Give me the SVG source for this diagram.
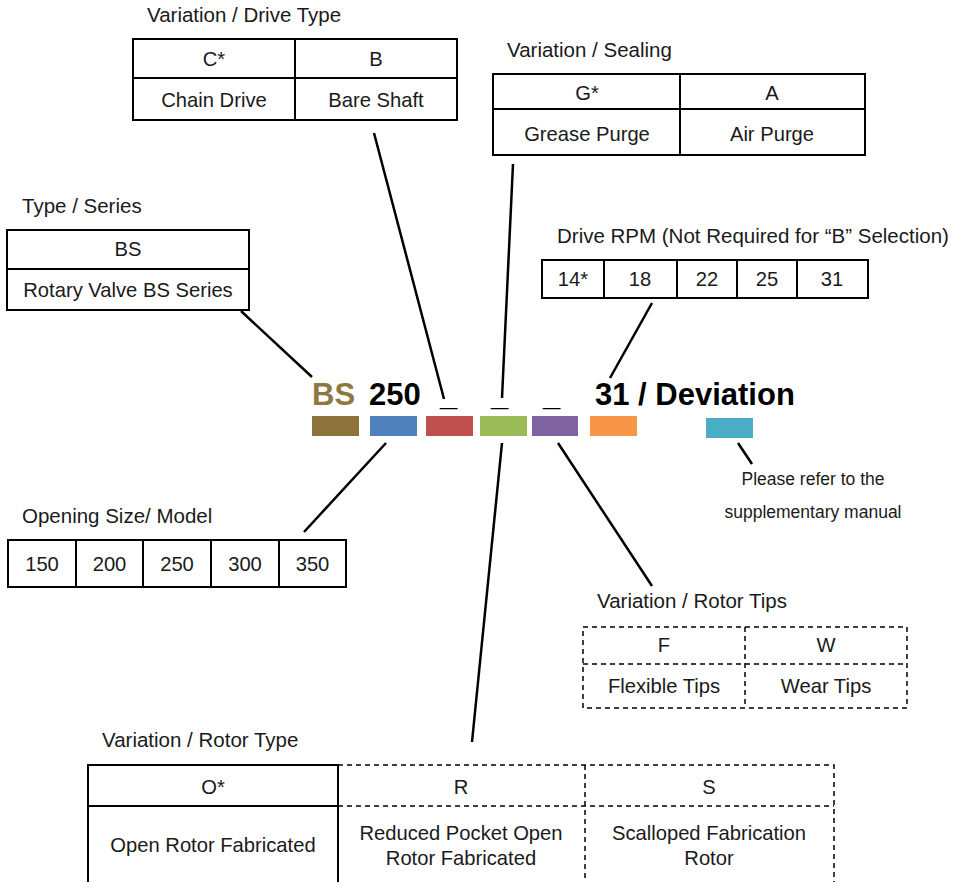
<svg xmlns="http://www.w3.org/2000/svg" width="962" height="882" viewBox="0 0 962 882">
<style>
text{font-family:"Liberation Sans",Arial,sans-serif;fill:#1a1a1a}
.t{font-size:20.5px}
.c{font-size:20.2px;text-anchor:middle}
.n{font-size:17.5px;text-anchor:middle}
.code{font-size:31px;font-weight:bold;fill:#000}
.box{fill:none;stroke:#000;stroke-width:2}
.dash{fill:none;stroke:#000;stroke-width:1.5;stroke-dasharray:5,4}
.conn line{stroke:#000;stroke-width:2.5}
</style>
<rect width="962" height="882" fill="#fff"/>

<g id="drive-type">
<text class="t" x="147" y="22">Variation / Drive Type</text>
<rect class="box" x="133" y="39" width="324" height="81"/>
<line class="box" x1="133" y1="78" x2="457" y2="78"/>
<line class="box" x1="295" y1="39" x2="295" y2="120"/>
<text class="c" x="214" y="66">C*</text>
<text class="c" x="376" y="66">B</text>
<text class="c" x="214" y="107">Chain Drive</text>
<text class="c" x="376" y="107">Bare Shaft</text>
</g>

<g id="sealing">
<text class="t" x="507" y="57">Variation / Sealing</text>
<rect class="box" x="493" y="74" width="372" height="81"/>
<line class="box" x1="493" y1="109" x2="865" y2="109"/>
<line class="box" x1="680" y1="74" x2="680" y2="155"/>
<text class="c" x="587" y="100">G*</text>
<text class="c" x="772" y="100">A</text>
<text class="c" x="587" y="141">Grease Purge</text>
<text class="c" x="772" y="141">Air Purge</text>
</g>

<g id="type-series">
<text class="t" x="22" y="213">Type / Series</text>
<rect class="box" x="7" y="230" width="242" height="80"/>
<line class="box" x1="7" y1="269" x2="249" y2="269"/>
<text class="c" x="128" y="256">BS</text>
<text class="c" x="128" y="297">Rotary Valve BS Series</text>
</g>

<g id="drive-rpm">
<text class="t" x="557" y="243">Drive RPM (Not Required for “B” Selection)</text>
<rect class="box" x="542" y="260" width="326" height="38"/>
<line class="box" x1="604" y1="260" x2="604" y2="298"/>
<line class="box" x1="677" y1="260" x2="677" y2="298"/>
<line class="box" x1="737" y1="260" x2="737" y2="298"/>
<line class="box" x1="797" y1="260" x2="797" y2="298"/>
<text class="c" x="573" y="286">14*</text>
<text class="c" x="640" y="286">18</text>
<text class="c" x="707" y="286">22</text>
<text class="c" x="767" y="286">25</text>
<text class="c" x="832" y="286">31</text>
</g>

<g id="code">
<text class="code" x="312" y="405" style="fill:#8F7742">BS</text>
<text class="code" x="369" y="405">250</text>
<text class="code" x="440" y="405">_</text>
<text class="code" x="491" y="405">_</text>
<text class="code" x="543" y="405">_</text>
<text class="code" x="595" y="405">31 / Deviation</text>
<rect x="312" y="416" width="47" height="20" fill="#8B733B"/>
<rect x="370" y="416" width="47" height="20" fill="#4F81BD"/>
<rect x="426" y="416" width="47" height="20" fill="#C0504D"/>
<rect x="480" y="416" width="47" height="20" fill="#9BBB59"/>
<rect x="532" y="416" width="46" height="20" fill="#8064A2"/>
<rect x="590" y="416" width="47" height="20" fill="#F79646"/>
<rect x="706" y="418" width="47" height="20" fill="#4BACC6"/>
</g>

<g id="deviation-note">
<text class="n" x="813" y="485">Please refer to the</text>
<text class="n" x="813" y="518">supplementary manual</text>
</g>

<g id="opening-size">
<text class="t" x="22" y="523">Opening Size/ Model</text>
<rect class="box" x="8" y="540" width="338" height="47"/>
<line class="box" x1="76" y1="540" x2="76" y2="587"/>
<line class="box" x1="143" y1="540" x2="143" y2="587"/>
<line class="box" x1="211" y1="540" x2="211" y2="587"/>
<line class="box" x1="279" y1="540" x2="279" y2="587"/>
<text class="c" x="42" y="571">150</text>
<text class="c" x="109.5" y="571">200</text>
<text class="c" x="177" y="571">250</text>
<text class="c" x="245" y="571">300</text>
<text class="c" x="312.5" y="571">350</text>
</g>

<g id="rotor-tips">
<text class="t" x="597" y="608">Variation / Rotor Tips</text>
<rect class="dash" x="583" y="627" width="324" height="81"/>
<line class="dash" x1="583" y1="664" x2="907" y2="664"/>
<line class="dash" x1="745" y1="627" x2="745" y2="708"/>
<text class="c" x="664" y="652">F</text>
<text class="c" x="826" y="652">W</text>
<text class="c" x="664" y="693">Flexible Tips</text>
<text class="c" x="826" y="693">Wear Tips</text>
</g>

<g id="rotor-type">
<text class="t" x="102" y="747">Variation / Rotor Type</text>
<path class="dash" d="M338 765 H834 V890 M338 806 H834 M585 765 V890"/>
<path class="box" d="M88 890 V765 H338 V890 M88 806 H338"/>
<text class="c" x="213" y="794">O*</text>
<text class="c" x="461" y="794">R</text>
<text class="c" x="709" y="794">S</text>
<text class="c" x="213" y="852">Open Rotor Fabricated</text>
<text class="c" x="461" y="840">Reduced Pocket Open</text>
<text class="c" x="461" y="865">Rotor Fabricated</text>
<text class="c" x="709" y="840">Scalloped Fabrication</text>
<text class="c" x="709" y="865">Rotor</text>
</g>

<g id="connectors" class="conn">
<line x1="241" y1="311" x2="312" y2="377"/>
<line x1="374" y1="133" x2="444" y2="399"/>
<line x1="513" y1="164" x2="502" y2="398"/>
<line x1="652" y1="303" x2="610" y2="378"/>
<line x1="386" y1="443" x2="304" y2="532"/>
<line x1="502" y1="443" x2="472" y2="742"/>
<line x1="558" y1="443" x2="652" y2="586"/>
<line x1="738" y1="443" x2="752" y2="464"/>
</g>
</svg>
